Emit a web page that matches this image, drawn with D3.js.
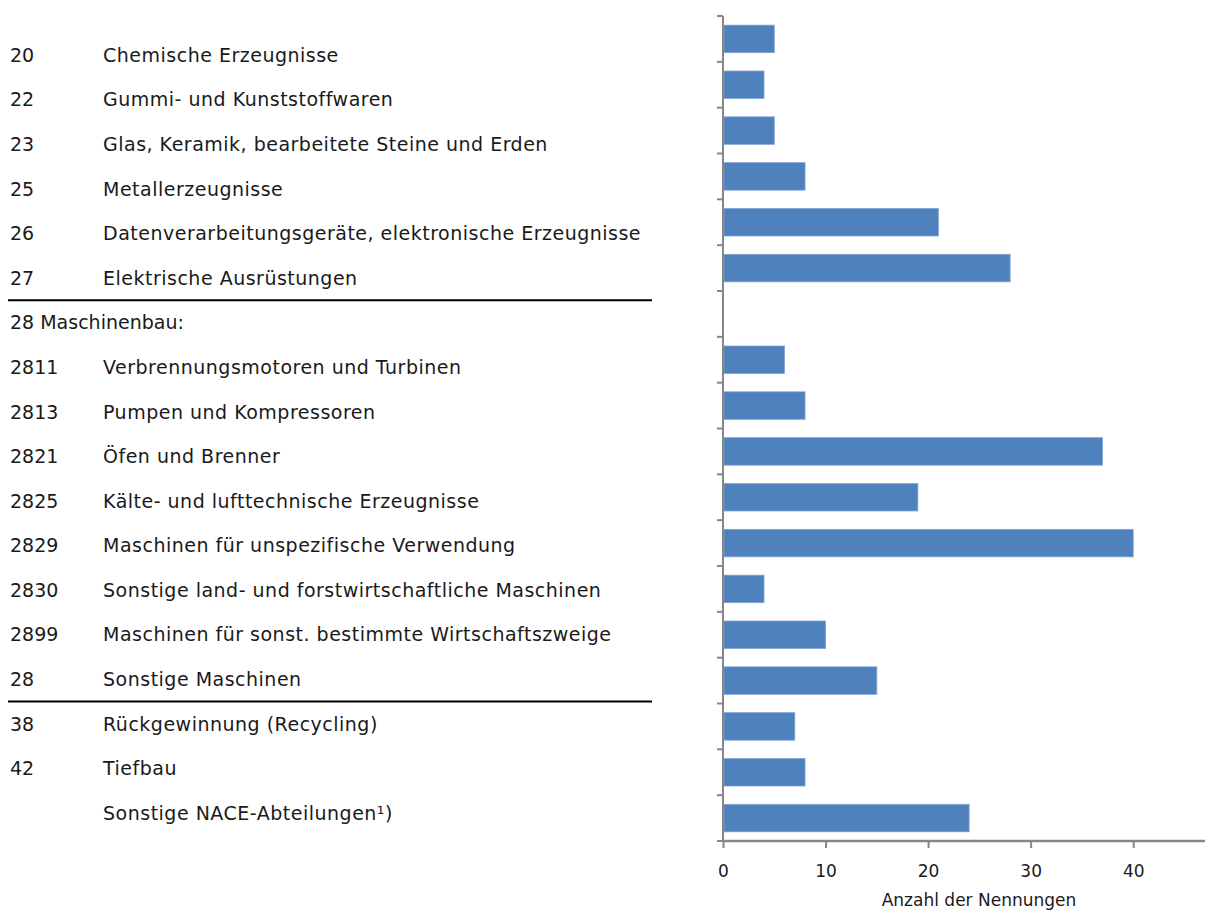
<!DOCTYPE html>
<html>
<head>
<meta charset="utf-8">
<script src="https://cdn.jsdelivr.net/npm/d3@7"></script>
<style>
  html, body { margin: 0; padding: 0; background: #ffffff; }
  svg { display: block; }
  text { font-family: "DejaVu Sans", sans-serif; fill: #1a1a1a; }
</style>
</head>
<body>
<svg id="chart" width="1205" height="910"></svg>
<script>
// NACE codes and descriptions shown in the table on the left
const codes = ["20", "22", "23", "25", "26", "27", "28 Maschinenbau:", "2811", "2813", "2821", "2825", "2829", "2830", "2899", "28", "38", "42", ""];
const names = [
  "Chemische Erzeugnisse",
  "Gummi- und Kunststoffwaren",
  "Glas, Keramik, bearbeitete Steine und Erden",
  "Metallerzeugnisse",
  "Datenverarbeitungsgeräte, elektronische Erzeugnisse",
  "Elektrische Ausrüstungen",
  "",
  "Verbrennungsmotoren und Turbinen",
  "Pumpen und Kompressoren",
  "Öfen und Brenner",
  "Kälte- und lufttechnische Erzeugnisse",
  "Maschinen für unspezifische Verwendung",
  "Sonstige land- und forstwirtschaftliche Maschinen",
  "Maschinen für sonst. bestimmte Wirtschaftszweige",
  "Sonstige Maschinen",
  "Rückgewinnung (Recycling)",
  "Tiefbau",
  "Sonstige NACE-Abteilungen¹)"
];
// Number of mentions per row (the header row has no bar)
const values = [5, 4, 5, 8, 21, 28, null, 6, 8, 37, 19, 40, 4, 10, 15, 7, 8, 24];
// Rows after which a separator line is drawn in the table
const separatorsAfter = [5, 14];
const xTicks = [0, 10, 20, 30, 40];
const xTitle = "Anzahl der Nennungen";

const svg = d3.select("#chart");
const rows = d3.range(values.length);

// Bar chart area
const plot = { left: 723, right: 1205, top: 16, bottom: 841 };
const x = d3.scaleLinear().domain([0, 47]).range([plot.left, plot.right]);
const y = d3.scaleBand().domain(rows).range([plot.top, plot.bottom]).paddingInner(0.4).paddingOuter(0.2);
const yBounds = d3.scaleLinear().domain([0, rows.length]).range([plot.top, plot.bottom]);

// Bars
svg.append("g").selectAll("rect")
  .data(rows.filter(i => values[i] != null))
  .join("rect")
  .attr("x", x(0) + 1)
  .attr("y", i => y(i))
  .attr("width", i => x(values[i]) - x(0) - 1)
  .attr("height", y.bandwidth())
  .attr("fill", "#4f81bd")
  .attr("stroke", "#7fa3d3")
  .attr("stroke-width", 0.8);

// Vertical category axis with ticks on category boundaries
const axisColor = "#868686";
const yAxis = svg.append("g");
yAxis.append("line")
  .attr("x1", plot.left).attr("x2", plot.left)
  .attr("y1", plot.top).attr("y2", plot.bottom)
  .attr("stroke", axisColor).attr("stroke-width", 2);
yAxis.selectAll("line.tick")
  .data(d3.range(rows.length + 1))
  .join("line")
  .attr("class", "tick")
  .attr("x1", plot.left - 6).attr("x2", plot.left)
  .attr("y1", d => yBounds(d)).attr("y2", d => yBounds(d))
  .attr("stroke", axisColor).attr("stroke-width", 2);

// Horizontal value axis
const xAxis = d3.axisBottom(x).tickValues(xTicks).tickSize(7).tickPadding(17);
const gx = svg.append("g").attr("transform", `translate(0,${plot.bottom})`).call(xAxis);
gx.select(".domain").attr("stroke", axisColor).attr("stroke-width", 2.5)
  .attr("d", `M${plot.left},0H${plot.right}`);
gx.selectAll(".tick line").attr("stroke", axisColor).attr("stroke-width", 2);
gx.selectAll(".tick text").attr("font-size", 17).style("fill", "#1a1a1a")
  .attr("font-family", "DejaVu Sans, sans-serif");

svg.append("text")
  .attr("x", 979).attr("y", 906)
  .attr("text-anchor", "middle")
  .attr("font-size", 17)
  .text(xTitle);

// Table of NACE codes on the left
const tableRow = d3.scaleLinear().domain([0, rows.length - 1]).range([55, 813]);
const table = svg.append("g");
table.selectAll("text.code")
  .data(rows)
  .join("text")
  .attr("class", "code")
  .attr("x", 10)
  .attr("y", i => tableRow(i))
  .attr("dy", "0.36em")
  .attr("font-size", 19)
  .text(i => codes[i]);
table.selectAll("text.name")
  .data(rows)
  .join("text")
  .attr("class", "name")
  .attr("x", 103)
  .attr("y", i => tableRow(i))
  .attr("dy", "0.36em")
  .attr("font-size", 19)
  .attr("letter-spacing", 0.5)
  .text(i => names[i]);

table.selectAll("line.sep")
  .data(separatorsAfter)
  .join("line")
  .attr("class", "sep")
  .attr("x1", 8).attr("x2", 652)
  .attr("y1", i => (tableRow(i) + tableRow(i + 1)) / 2)
  .attr("y2", i => (tableRow(i) + tableRow(i + 1)) / 2)
  .attr("stroke", "#000").attr("stroke-width", 2);
</script>
</body>
</html>
